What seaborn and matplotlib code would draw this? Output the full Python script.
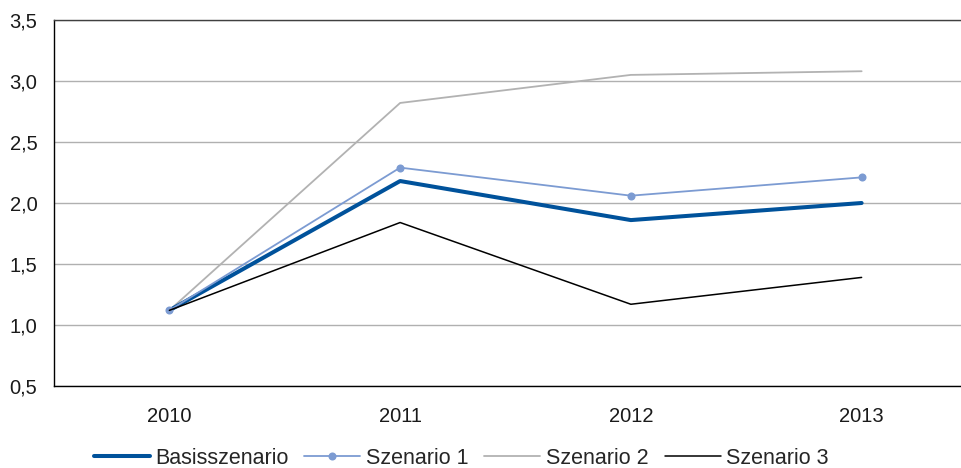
import matplotlib
matplotlib.use("Agg")
import matplotlib.pyplot as plt
import matplotlib.ticker as mticker
import seaborn as sns
import pandas as pd

years = ["2010", "2011", "2012", "2013"]
basis = [1.12, 2.18, 1.86, 2.00]
szenario1 = [1.12, 2.29, 2.06, 2.21]
szenario2 = [1.12, 2.82, 3.05, 3.08]
szenario3 = [1.12, 1.84, 1.17, 1.39]

series = {
    "Basisszenario": basis,
    "Szenario 1": szenario1,
    "Szenario 2": szenario2,
    "Szenario 3": szenario3,
}
styles = {
    "Basisszenario": dict(color="#00529B", lw=2.9, marker=None, z=4),
    "Szenario 1": dict(color="#7C9BD2", lw=1.3, marker="o", z=5),
    "Szenario 2": dict(color="#B2B2B2", lw=1.3, marker=None, z=3),
    "Szenario 3": dict(color="#000000", lw=1.1, marker=None, z=6),
}

sns.set_theme(style="white")
plt.rcParams["font.family"] = ["Liberation Sans", "DejaVu Sans"]
plt.rcParams["font.size"] = 15

fig = plt.figure(figsize=(9.62, 4.68), dpi=100)
W, H = 962, 468
left, right, top, bottom = 54, 977, 20, 386
ax = fig.add_axes([left / W, 1 - bottom / H, (right - left) / W, (bottom - top) / H])

for name, vals in series.items():
    st = styles[name]
    df = pd.DataFrame({"Jahr": list(range(len(years))), "Wert": vals})
    sns.lineplot(data=df, x="Jahr", y="Wert", ax=ax, color=st["color"],
                 linewidth=st["lw"], marker=st["marker"], markersize=5.8,
                 markeredgewidth=0, label=name, zorder=st["z"], legend=False)

ax.set_xlim(-0.5, 3.5)
ax.set_ylim(0.5, 3.5)
ax.set_xlabel("")
ax.set_ylabel("")

# category labels at centers, tick marks at category boundaries
ax.set_xticks(range(len(years)))
ax.set_xticklabels(years, fontsize=14.5, color="#1a1a1a")
ax.tick_params(axis="x", which="major", length=0, pad=15)
ax.set_xticks([-0.5, 0.5, 1.5, 2.5, 3.5], minor=True)
ax.tick_params(axis="x", which="minor", length=5, width=1, color="black", direction="out")

ax.yaxis.set_major_locator(mticker.MultipleLocator(0.5))
ax.yaxis.set_major_formatter(mticker.FuncFormatter(lambda v, p: f"{v:.1f}".replace(".", ",")))
ax.tick_params(axis="y", length=5, width=1, color="black", direction="out", pad=7,
               labelsize=14.5, labelcolor="#1a1a1a")

ax.grid(axis="y", color="#B0B0B0", linewidth=1)
ax.set_axisbelow(True)

for side in ["left", "bottom"]:
    ax.spines[side].set_color("black")
    ax.spines[side].set_linewidth(1)
ax.spines["top"].set_color("#404040")
ax.spines["top"].set_linewidth(1)
ax.spines["right"].set_visible(False)

handles, labels = ax.get_legend_handles_labels()
fig.legend(handles, labels, loc="center", bbox_to_anchor=(461 / W, 1 - 458 / H),
           ncol=4, frameon=False, fontsize=15.5, handlelength=2.6, handletextpad=0.25,
           columnspacing=0.75, borderaxespad=0)

fig.savefig("out.png", dpi=100)
